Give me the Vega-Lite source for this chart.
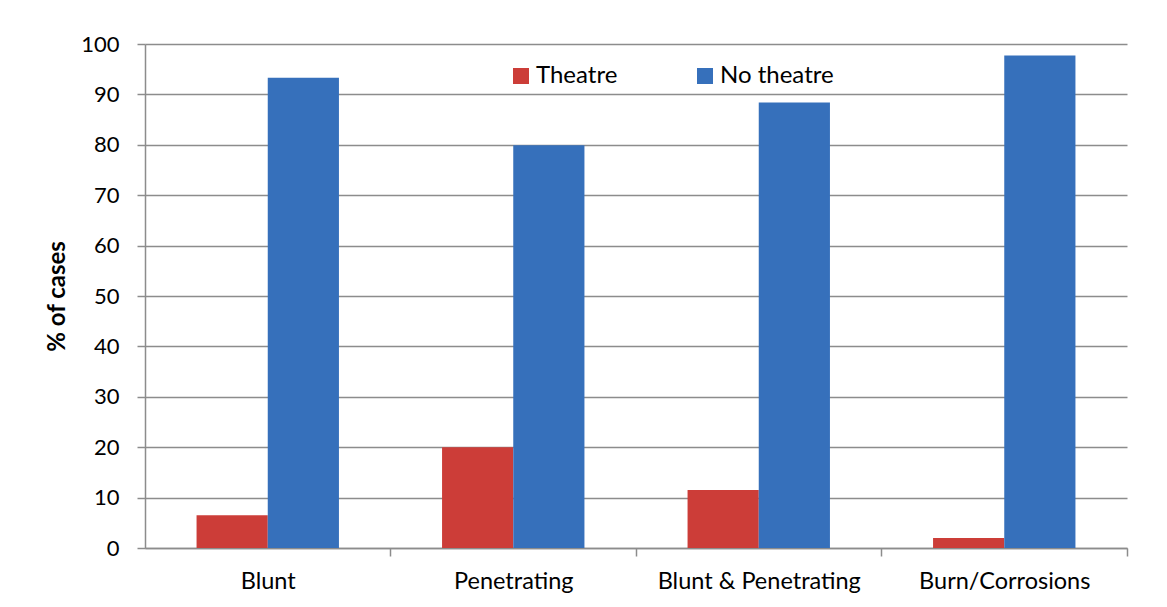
{
  "$schema": "https://vega.github.io/schema/vega-lite/v6.json",
  "autosize": {"type": "none"},
  "width": 982,
  "height": 504,
  "padding": {"left": 145, "top": 44, "right": 40, "bottom": 59},
  "background": "white",
  "data": {
    "values": [
      {"category": "Blunt", "group": "Theatre", "pct": 6.5},
      {"category": "Blunt", "group": "No theatre", "pct": 93.3},
      {"category": "Penetrating", "group": "Theatre", "pct": 20.0},
      {"category": "Penetrating", "group": "No theatre", "pct": 79.9},
      {"category": "Blunt & Penetrating", "group": "Theatre", "pct": 11.5},
      {"category": "Blunt & Penetrating", "group": "No theatre", "pct": 88.4},
      {"category": "Burn/Corrosions", "group": "Theatre", "pct": 2.0},
      {"category": "Burn/Corrosions", "group": "No theatre", "pct": 97.7}
    ]
  },
  "mark": {"type": "bar"},
  "encoding": {
    "x": {
      "field": "category",
      "type": "nominal",
      "sort": ["Blunt", "Penetrating", "Blunt & Penetrating", "Burn/Corrosions"],
      "scale": {"paddingInner": 0.42, "paddingOuter": 0.21},
      "axis": {
        "title": null,
        "labelAngle": 0,
        "labelFont": "Lato",
        "labelFontSize": 23.5,
        "labelColor": "#000000",
        "labelLimit": 0,
        "labelPadding": 13,
        "bandPosition": 1,
        "tickOffset": 51.5,
        "labelOffset": -51.5,
        "tickSize": 8,
        "tickColor": "#8c8c8c",
        "tickWidth": 1.5,
        "domainColor": "#8c8c8c",
        "domainWidth": 1.5,
        "grid": false
      }
    },
    "xOffset": {
      "field": "group",
      "type": "nominal",
      "sort": ["Theatre", "No theatre"],
      "scale": {"paddingInner": 0, "paddingOuter": 0}
    },
    "y": {
      "field": "pct",
      "type": "quantitative",
      "scale": {"domain": [0, 100], "nice": false},
      "axis": {
        "title": "% of cases",
        "titleFont": "Lato",
        "titleFontSize": 24,
        "titleFontWeight": "bold",
        "titleColor": "#000000",
        "titleAngle": 270,
        "titleX": -88,
        "titleY": 252,
        "titleAlign": "center",
        "titleBaseline": "middle",
        "values": [0, 10, 20, 30, 40, 50, 60, 70, 80, 90, 100],
        "labelFont": "Lato",
        "labelFontSize": 22,
        "labelColor": "#000000",
        "labelPadding": 18,
        "tickSize": 8,
        "tickColor": "#8c8c8c",
        "tickWidth": 1.5,
        "domainColor": "#8c8c8c",
        "domainWidth": 1.5,
        "grid": true,
        "gridColor": "#8c8c8c",
        "gridWidth": 1.5
      }
    },
    "color": {
      "field": "group",
      "type": "nominal",
      "sort": ["Theatre", "No theatre"],
      "scale": {"domain": ["Theatre", "No theatre"], "range": ["#cc3d38", "#3670bb"]},
      "legend": {
        "title": null,
        "orient": "none",
        "direction": "horizontal",
        "legendX": 364,
        "legendY": 20,
        "symbolType": "square",
        "symbolSize": 256,
        "symbolStrokeWidth": 0,
        "labelFont": "Lato",
        "labelFontSize": 24,
        "labelColor": "#000000",
        "labelOffset": 3,
        "columnPadding": 75
      }
    }
  },
  "config": {
    "view": {"stroke": null}
  }
}
